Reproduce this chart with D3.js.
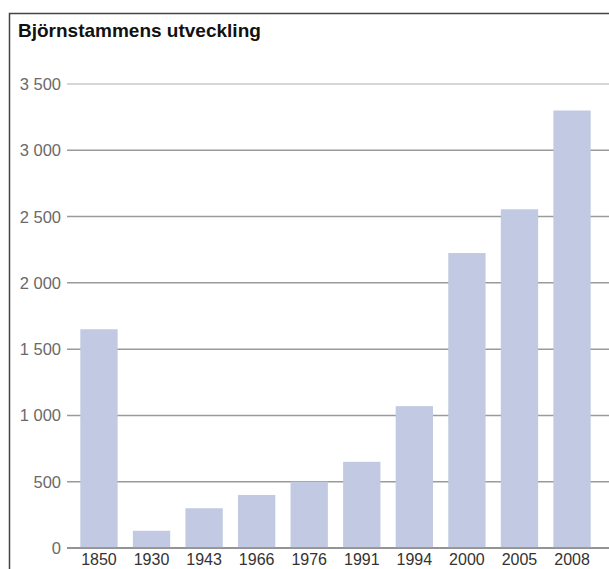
<!DOCTYPE html>
<head>
<meta charset="utf-8">
<style>
  body { margin:0; background:#fff; }
  .title { font-family:"Liberation Sans Narrow","Liberation Sans",sans-serif; font-weight:bold; font-size:19px; fill:#111; }
  .ytick text { font-family:"Liberation Sans",sans-serif; font-size:16.5px; fill:#6a6a6a; }
  .xtick text { font-family:"Liberation Sans",sans-serif; font-size:16px; fill:#333; }
  .grid line { stroke:#9a9a9a; stroke-width:1.5; }
  .bar { fill:#c2c9e2; }
</style>
</head>
<body>
<script src="https://cdn.jsdelivr.net/npm/d3@7"></script>
<script>

var years = ["1850","1930","1943","1966","1976","1991","1994","2000","2005","2008"];
var bears = [1650, 130, 300, 400, 500, 650, 1070, 2225, 2555, 3300];
var yticks = [0, 500, 1000, 1500, 2000, 2500, 3000, 3500];

var width = 609, height = 569;

var svg = d3.select("body").append("svg")
    .attr("width", width)
    .attr("height", height);

// frame, runs off the right and bottom edge
svg.append("rect")
    .attr("x", 9.5).attr("y", 13.5)
    .attr("width", 620).attr("height", 600)
    .style("fill", "none")
    .style("stroke", "#444")
    .style("stroke-width", 1.5);

svg.append("text")
    .attr("class", "title")
    .attr("x", 18).attr("y", 37)
    .text("Björnstammens utveckling");

var y = d3.scaleLinear().domain([0, 3500]).range([548, 84]);
var x = d3.scaleBand().domain(years).range([74, 597]).paddingInner(0.29).paddingOuter(0.12);

var fmt = function(d) { return d3.format(",")(d).replace(",", " "); };

var grid = svg.append("g").attr("class", "grid");
grid.selectAll("line")
    .data(yticks).enter()
    .append("line")
    .attr("x1", 67).attr("x2", width)
    .attr("y1", function(d) { return y(d); })
    .attr("y2", function(d) { return y(d); })
    .style("stroke", function(d) { return d == 3500 ? "#c8c8c8" : null; });

svg.append("g").attr("class", "ytick")
  .selectAll("text")
    .data(yticks).enter()
    .append("text")
    .attr("x", 61)
    .attr("y", function(d) { return y(d) + 6; })
    .attr("text-anchor", "end")
    .text(fmt);

svg.selectAll(".bar")
    .data(bears).enter()
    .append("rect")
    .attr("class", "bar")
    .attr("x", function(d, i) { return x(years[i]); })
    .attr("width", x.bandwidth())
    .attr("y", function(d) { return y(d); })
    .attr("height", function(d) { return y(0) - y(d); });

// zero line on top of bars
svg.append("line")
    .attr("x1", 67).attr("x2", width)
    .attr("y1", y(0)).attr("y2", y(0))
    .style("stroke", "#8a8a8a").style("stroke-width", 1.5);

svg.append("g").attr("class", "xtick")
  .selectAll("text")
    .data(years).enter()
    .append("text")
    .attr("x", function(d) { return x(d) + x.bandwidth() / 2; })
    .attr("y", 565)
    .attr("text-anchor", "middle")
    .text(function(d) { return d; });

</script>
</body>
